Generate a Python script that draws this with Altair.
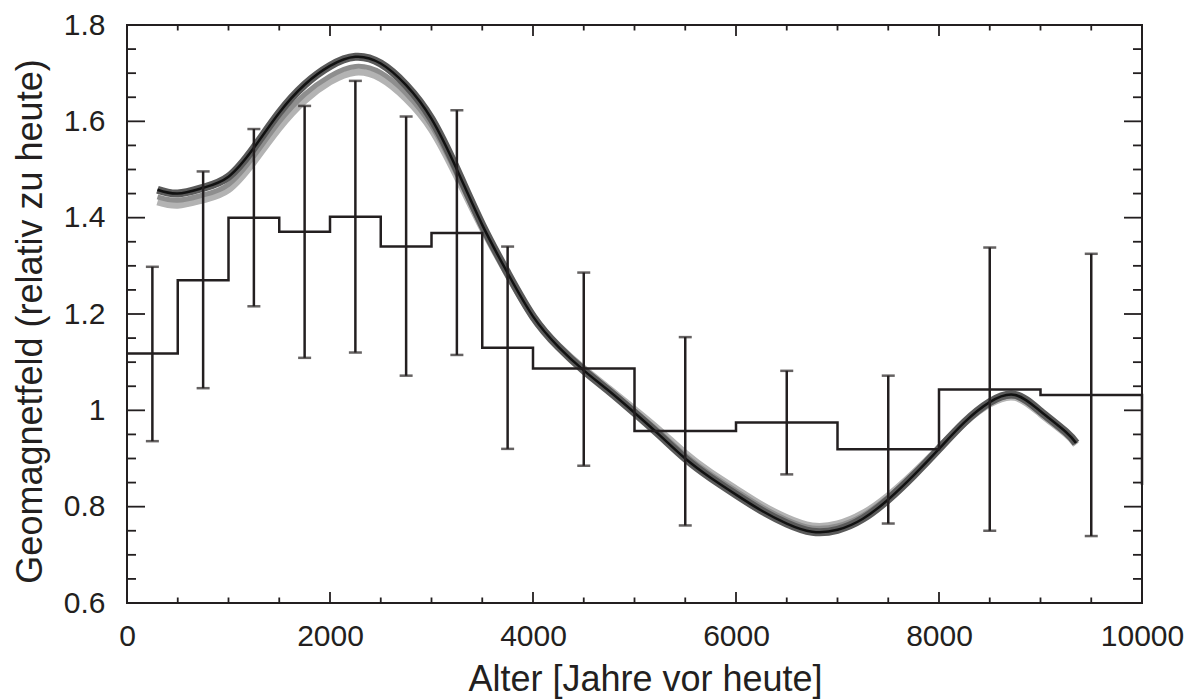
import altair as alt
import pandas as pd

# ---------------- data ----------------
years = [300, 500, 750, 1000, 1250, 1500, 1750, 2000, 2250, 2500, 2750, 3000,
         3250, 3500, 3750, 4000, 4250, 4500, 4750, 5000, 5250, 5500, 5750, 6000,
         6250, 6500, 6750, 7000, 7250, 7500, 7750, 8000, 8250, 8500, 8750, 9000,
         9250, 9350]
curve_main = [1.458, 1.450, 1.462, 1.485, 1.545, 1.618, 1.676, 1.715, 1.734, 1.720,
              1.675, 1.605, 1.500, 1.385, 1.285, 1.195, 1.132, 1.083, 1.040, 0.995,
              0.948, 0.900, 0.860, 0.825, 0.792, 0.765, 0.748, 0.752, 0.775, 0.815,
              0.865, 0.920, 0.975, 1.017, 1.032, 0.998, 0.955, 0.932]
curve_mid = [1.443, 1.436, 1.447, 1.469, 1.528, 1.599, 1.656, 1.694, 1.714, 1.701,
             1.658, 1.591, 1.490, 1.380, 1.283, 1.195, 1.133, 1.085, 1.043, 0.999,
             0.954, 0.907, 0.867, 0.833, 0.800, 0.773, 0.756, 0.760, 0.782, 0.820,
             0.868, 0.921, 0.975, 1.015, 1.029, 0.995, 0.953, 0.930]
curve_light = [1.433, 1.426, 1.437, 1.458, 1.516, 1.586, 1.643, 1.682, 1.702, 1.689,
               1.647, 1.583, 1.485, 1.378, 1.282, 1.195, 1.134, 1.087, 1.045, 1.002,
               0.958, 0.911, 0.871, 0.837, 0.804, 0.777, 0.760, 0.764, 0.786, 0.823,
               0.870, 0.922, 0.974, 1.013, 1.027, 0.993, 0.951, 0.929]

step_x = [0, 500, 1000, 1500, 2000, 2500, 3000, 3500, 4000, 5000, 6000, 7000,
          8000, 9000, 10000, 10000]
step_y = [1.118, 1.270, 1.400, 1.371, 1.402, 1.340, 1.368, 1.130, 1.087, 0.957,
          0.975, 0.919, 1.043, 1.032, 1.032, 0.845]

err_x = [250, 750, 1250, 1750, 2250, 2750, 3250, 3750, 4500, 5500, 6500, 7500,
         8500, 9500]
err_hi = [1.298, 1.496, 1.584, 1.632, 1.684, 1.610, 1.623, 1.340, 1.286, 1.152,
          1.082, 1.072, 1.338, 1.325]
err_lo = [0.936, 1.046, 1.216, 1.109, 1.120, 1.072, 1.115, 0.920, 0.885, 0.761,
          0.867, 0.765, 0.750, 0.739]

x_major = [0, 2000, 4000, 6000, 8000, 10000]
x_minor = [500, 1000, 1500, 2500, 3000, 3500, 4500, 5000, 5500, 6500, 7000, 7500,
           8500, 9000, 9500]
y_major = [0.6, 0.8, 1.0, 1.2, 1.4, 1.6, 1.8]
y_minor = [0.65, 0.7, 0.75, 0.85, 0.9, 0.95, 1.05, 1.1, 1.15, 1.25, 1.3, 1.35,
           1.45, 1.5, 1.55, 1.65, 1.7, 1.75]

# ---------------- layout ----------------
W, H = 1015, 578
INK = "#231f20"
FONT = "Liberation Sans"

xs = alt.Scale(domain=[0, 10000], nice=False, zero=False)
ys = alt.Scale(domain=[0.6, 1.8], nice=False, zero=False)

x_axis = alt.Axis(values=x_major, format="d", ticks=False, domain=False, grid=False,
                  labelFontSize=30, labelFont=FONT, labelColor=INK, labelPadding=18,
                  labelFlush=False, title="Alter [Jahre vor heute]", titleFontSize=36,
                  titleFont=FONT, titleColor=INK, titleFontWeight="normal",
                  titleX=518, titleY=87, titleAlign="center",
                  titleBaseline="alphabetic")
y_axis = alt.Axis(values=y_major, format="~g", ticks=False, domain=False, grid=False,
                  labelFontSize=30, labelFont=FONT, labelColor=INK, labelPadding=22,
                  labelFlush=False, title="Geomagnetfeld (relativ zu heute)",
                  titleFontSize=36, titleFont=FONT, titleColor=INK,
                  titleFontWeight="normal", titleX=-86, titleY=296,
                  titleAlign="center", titleBaseline="alphabetic", titleAngle=270)


def X(field):
    return alt.X(field, type="quantitative", scale=xs, axis=x_axis)


def Y(field):
    return alt.Y(field, type="quantitative", scale=ys, axis=y_axis)


curves = pd.DataFrame({"t": years, "main": curve_main, "mid": curve_mid,
                       "light": curve_light})
step_df = pd.DataFrame({"x": step_x, "y": step_y, "o": list(range(len(step_x)))})
err_df = pd.DataFrame({"x": err_x, "lo": err_lo, "hi": err_hi})


def curve_layer(col, color, width):
    return alt.Chart(curves).mark_line(
        color=color, strokeWidth=width, interpolate="natural",
        strokeCap="butt").encode(x=X("t"), y=Y(col))


step = alt.Chart(step_df).mark_line(
    color=INK, strokeWidth=2.5, interpolate="step-after").encode(
    x=X("x"), y=Y("y"), order="o:Q")

err_rule = alt.Chart(err_df).mark_rule(color=INK, strokeWidth=2.5).encode(
    x=X("x"), y=Y("lo"), y2="hi:Q")
cap_lo = alt.Chart(err_df).mark_tick(color=INK, thickness=2.5, size=13,
                                     orient="horizontal").encode(x=X("x"), y=Y("lo"))
cap_hi = alt.Chart(err_df).mark_tick(color=INK, thickness=2.5, size=13,
                                     orient="horizontal").encode(x=X("x"), y=Y("hi"))


def xticks(vals, y0, y1):
    return alt.Chart(pd.DataFrame({"v": vals})).mark_rule(
        color=INK, strokeWidth=1.8).encode(
        x=X("v"), y=alt.value(y0), y2=alt.value(y1))


def yticks(vals, x0, x1):
    return alt.Chart(pd.DataFrame({"w": vals})).mark_rule(
        color=INK, strokeWidth=1.8).encode(
        y=Y("w"), x=alt.value(x0), x2=alt.value(x1))


ticks = [
    xticks(x_major, H, H - 11), xticks(x_minor, H, H - 5.5),
    xticks(x_major, 0, 11), xticks(x_minor, 0, 5.5),
    yticks(y_major, 0, 18), yticks(y_minor, 0, 9),
    yticks(y_major, W, W - 18), yticks(y_minor, W, W - 9),
]

chart = alt.layer(
    curve_layer("light", "#b3b3b3", 7),
    curve_layer("mid", "#8e8e8e", 5),
    curve_layer("main", "#5a5a5a", 8),
    curve_layer("main", "#111111", 2.5),
    step,
    err_rule, cap_lo, cap_hi,
    *ticks,
).properties(
    width=W, height=H,
    autosize=alt.AutoSizeParams(type="none"),
    padding={"left": 127, "top": 25, "right": 47, "bottom": 96},
    background="white",
).configure_view(stroke=INK, strokeWidth=2)

chart.save("out.html", embed_options={"renderer": "svg", "actions": False})
